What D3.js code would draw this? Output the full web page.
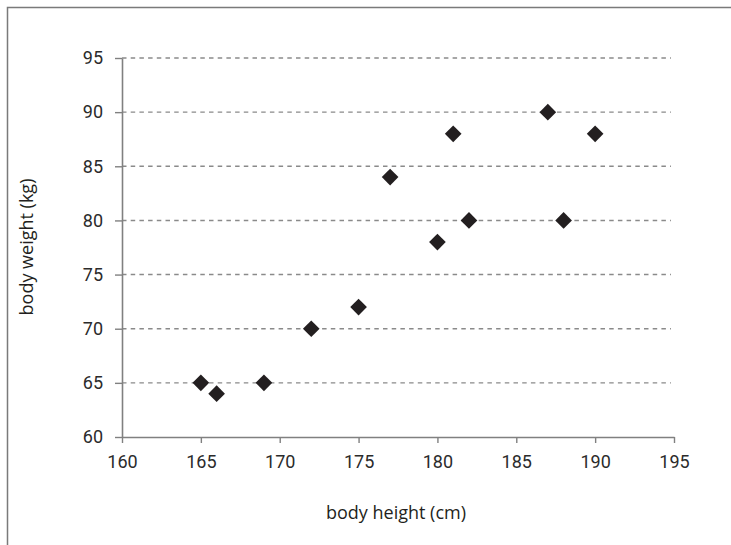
<!DOCTYPE html>
<html>
<head>
<meta charset="utf-8">
<script src="https://cdn.jsdelivr.net/npm/d3@7"></script>
<style>
  html, body { margin: 0; padding: 0; background: #fff; }
  svg { display: block; }
</style>
</head>
<body>
<svg id="chart" width="731" height="545"></svg>
<script>
// Body height (cm) and body weight (kg) for each subject
const heights = [165, 166, 169, 172, 175, 177, 180, 181, 182, 187, 188, 190];
const weights = [65, 64, 65, 70, 72, 84, 78, 88, 80, 90, 80, 88];

// Axis ticks
const xTicks = [160, 165, 170, 175, 180, 185, 190, 195];
const yTicks = [60, 65, 70, 75, 80, 85, 90, 95];

const xLabel = "body height (cm)";
const yLabel = "body weight (kg)";

const svg = d3.select("#chart");
const plot = { left: 122, right: 674, top: 58, bottom: 437 };

const x = d3.scaleLinear().domain([160, 195]).range([plot.left, plot.right]);
const y = d3.scaleLinear().domain([60, 95]).range([plot.bottom, plot.top]);

// Frame around the figure (open on the right and bottom edges)
svg.append("path")
  .attr("d", "M7.5,545 V7.5 H731")
  .attr("fill", "none")
  .attr("stroke", "#7a7a7a")
  .attr("stroke-width", 1.5);

// Dashed horizontal gridlines
svg.append("g")
  .selectAll("line")
  .data(yTicks.filter(v => v !== 60))
  .join("line")
  .attr("x1", plot.left)
  .attr("x2", plot.right - 3)
  .attr("y1", d => y(d))
  .attr("y2", d => y(d))
  .attr("stroke", "#8a8a8a")
  .attr("stroke-width", 1.4)
  .attr("stroke-dasharray", "4.5,4.2");

const tickFont = "Roboto, 'Liberation Sans', sans-serif";

// Y axis
const yAxis = svg.append("g")
  .attr("transform", `translate(${plot.left},0)`)
  .call(d3.axisLeft(y).tickValues(yTicks).tickSize(7).tickPadding(12).tickSizeOuter(0));

// X axis
const xAxis = svg.append("g")
  .attr("transform", `translate(0,${plot.bottom})`)
  .call(d3.axisBottom(x).tickValues(xTicks).tickSize(6).tickPadding(12.2).tickSizeOuter(0));

[yAxis, xAxis].forEach(ax => {
  ax.select(".domain").attr("stroke", "#808080").attr("stroke-width", 1.6);
  ax.selectAll(".tick line").attr("stroke", "#808080").attr("stroke-width", 1.4);
  ax.selectAll(".tick text")
    .attr("fill", "#2b2b2b")
    .style("font-family", tickFont)
    .style("font-size", "18px");
});

// Data points drawn as diamonds
const diamond = d3.symbol().type(d3.symbolSquare).size(139);
svg.append("g")
  .selectAll("path")
  .data(heights.map((h, i) => ({ h, w: weights[i] })))
  .join("path")
  .attr("d", diamond)
  .attr("transform", d => `translate(${x(d.h)},${y(d.w)}) rotate(45)`)
  .attr("fill", "#231f20");

// Axis titles
const titleFont = "'Open Sans', 'Noto Sans', sans-serif";
svg.append("text")
  .attr("x", 396)
  .attr("y", 519)
  .attr("text-anchor", "middle")
  .attr("fill", "#231f20")
  .style("font-family", titleFont)
  .style("font-size", "18px")
  .text(xLabel);

svg.append("text")
  .attr("transform", "translate(33,247) rotate(-90)")
  .attr("text-anchor", "middle")
  .attr("fill", "#231f20")
  .style("font-family", titleFont)
  .style("font-size", "18px")
  .text(yLabel);
</script>
</body>
</html>
